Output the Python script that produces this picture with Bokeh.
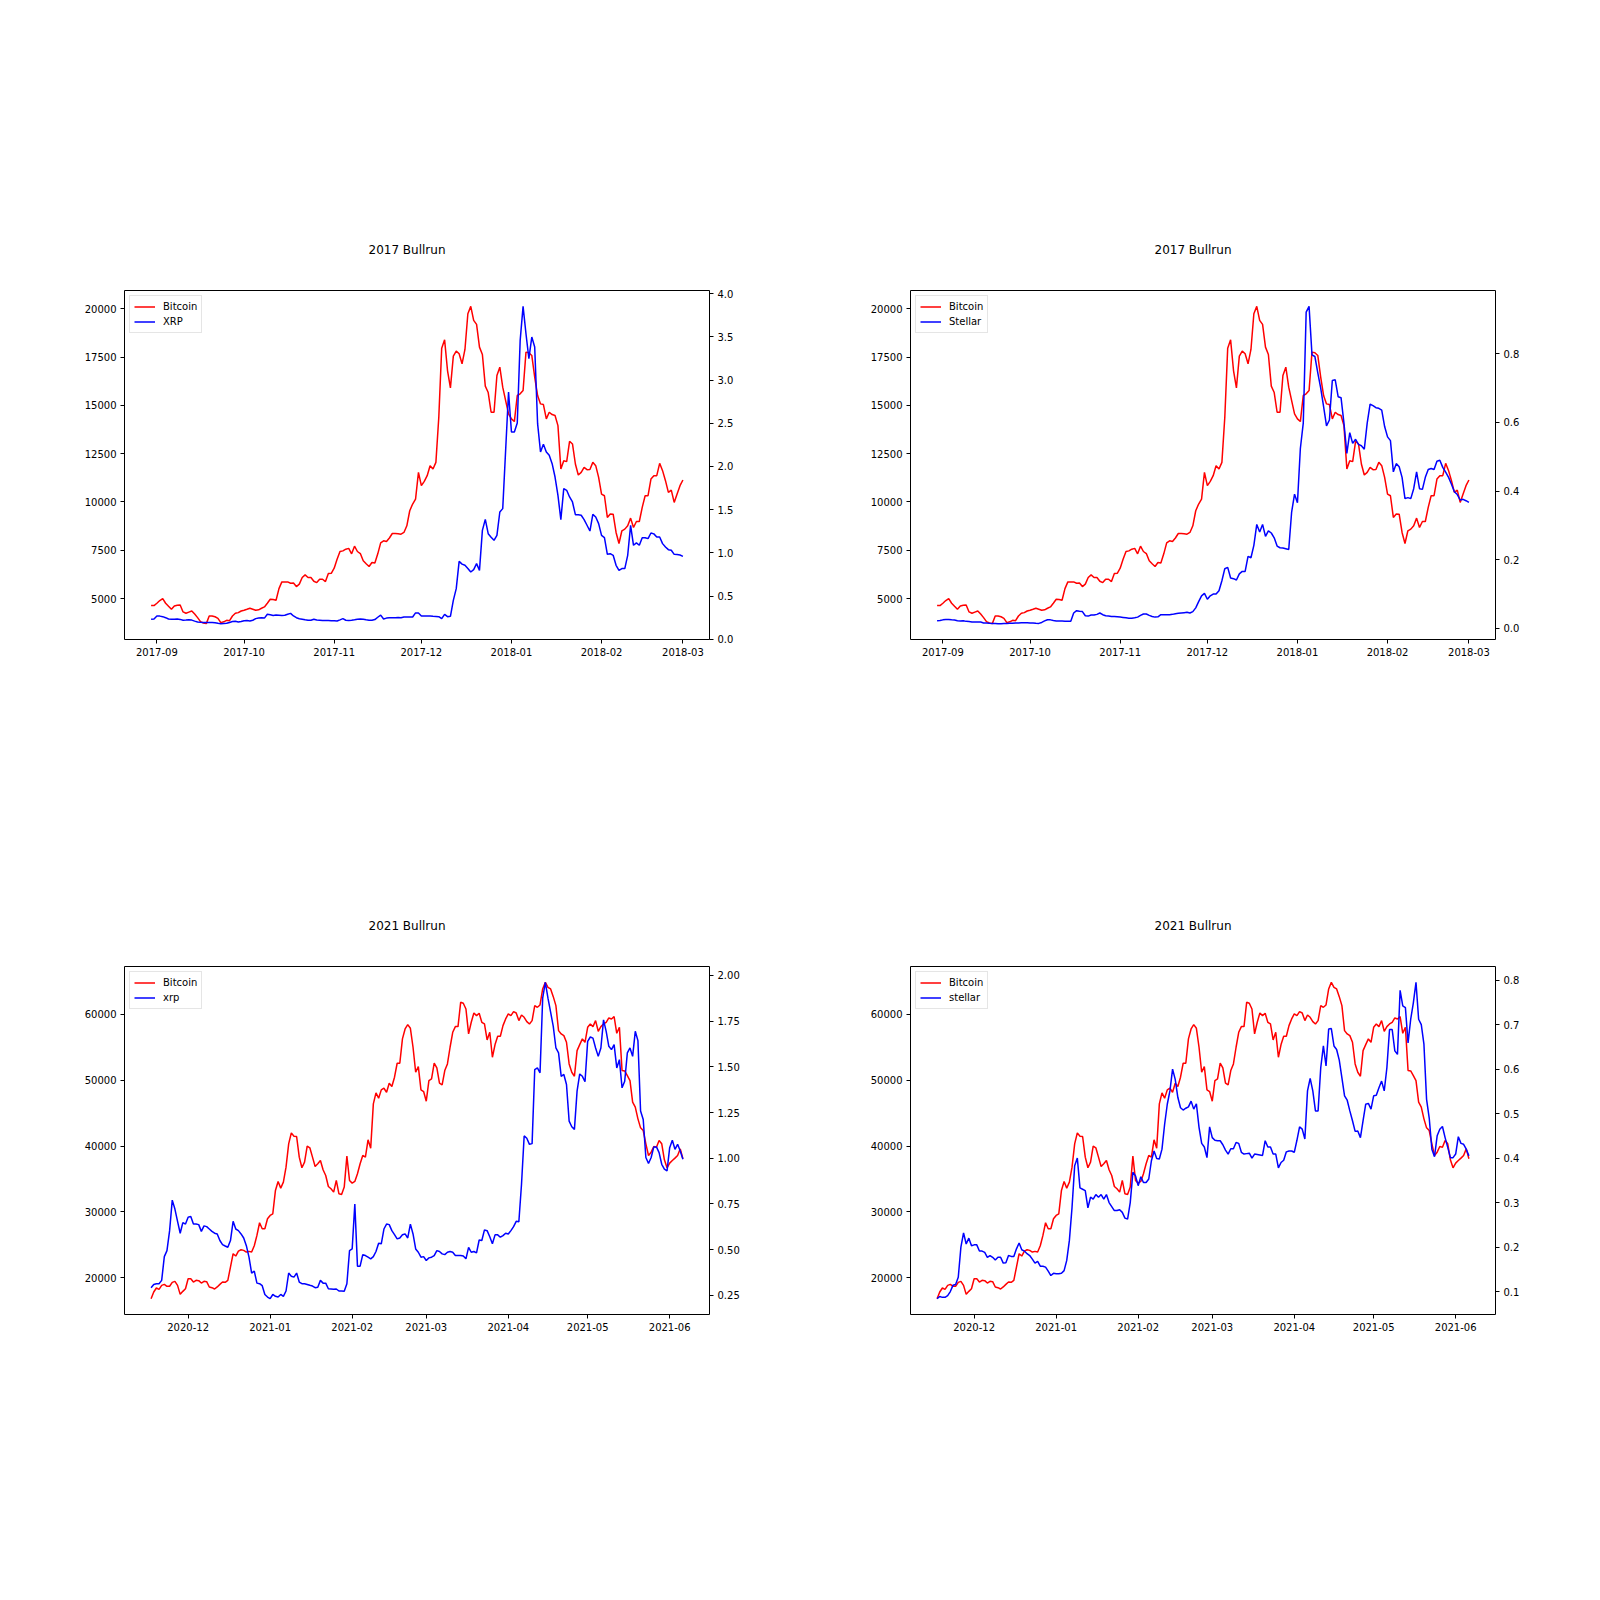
import pandas as pd
from bokeh.plotting import figure
from bokeh.models import (Range1d, LinearAxis, DatetimeTickFormatter, MonthsTicker,
                          FixedTicker, NumeralTickFormatter, Legend, LegendItem)
from bokeh.layouts import column, row
from bokeh.embed import file_html
from bokeh.resources import INLINE

# ---------------- data ----------------
start_2017 = "2017-08-30"
start_2021 = "2020-11-17"

btc_2017 = [
    4638, 4638, 4760, 4900, 5000, 4760, 4600, 4448, 4620, 4660,
    4673, 4310, 4240, 4300, 4360, 4200, 4015, 3807, 3740, 3705,
    4100, 4100, 4060, 3980, 3757, 3800, 3877, 3860, 4100, 4240,
    4275, 4360, 4400, 4448, 4500, 4450, 4396, 4420, 4500, 4570,
    4760, 4967, 4950, 4914, 5519, 5865, 5865, 5865, 5796, 5810,
    5623, 5750, 6090, 6228, 6090, 6090, 5900, 5830, 6000, 6003,
    5880, 6297, 6310, 6573, 7040, 7437, 7470, 7558, 7600, 7316,
    7714, 7437, 7333, 6954, 6800, 6660, 6867, 6840, 7316, 7886,
    7990, 7950, 8137, 8370, 8370, 8360, 8335, 8422, 8768, 9546,
    9892, 10150, 11533, 10842, 11066, 11360, 11878, 11705, 12050, 14384,
    17960, 18390, 16800, 15905, 17546, 17805, 17667, 17149, 17892, 19741,
    20121, 19395, 19188, 18013, 17633, 15991, 15663, 14643, 14643, 16544,
    16976, 15939, 15248, 14557, 14298, 14160, 15508, 15594, 15767, 17754,
    17720, 17581, 16458, 15508, 15075, 15040, 14298, 14643, 14522, 14470,
    13952, 11705, 12137, 12086, 13140, 13002, 11965, 11395, 11533, 11792,
    11671, 11680, 12050, 11878, 11274, 10410, 10323, 9200, 9373, 9370,
    8422, 7852, 8509, 8595, 8768, 9165, 8681, 8992, 8990, 9718,
    10323, 10323, 11187, 11360, 11360, 12000, 11620, 11101, 10496, 10617,
    9978, 10410, 10842, 11136,
]

xrp_2017 = [
    0.231, 0.235, 0.27, 0.268, 0.262, 0.25, 0.235, 0.232, 0.231, 0.235,
    0.23, 0.22, 0.222, 0.225, 0.222, 0.21, 0.2, 0.196, 0.193, 0.193,
    0.195, 0.194, 0.19, 0.185, 0.181, 0.183, 0.185, 0.195, 0.205, 0.208,
    0.2, 0.205, 0.214, 0.216, 0.212, 0.22, 0.239, 0.245, 0.25, 0.245,
    0.289, 0.283, 0.275, 0.28, 0.278, 0.275, 0.278, 0.29, 0.30, 0.27,
    0.25, 0.238, 0.232, 0.225, 0.22, 0.22, 0.232, 0.222, 0.22, 0.218,
    0.216, 0.216, 0.215, 0.214, 0.212, 0.225, 0.239, 0.22, 0.216, 0.22,
    0.225, 0.232, 0.235, 0.232, 0.225, 0.22, 0.22, 0.228, 0.255, 0.28,
    0.235, 0.245, 0.25, 0.25, 0.25, 0.252, 0.25, 0.258, 0.258, 0.258,
    0.258, 0.305, 0.305, 0.27, 0.27, 0.27, 0.268, 0.266, 0.265, 0.262,
    0.239, 0.289, 0.262, 0.266, 0.45, 0.586, 0.902, 0.87, 0.856, 0.82,
    0.779, 0.806, 0.875, 0.798, 1.261, 1.388, 1.222, 1.18, 1.145, 1.203,
    1.473, 1.512, 2.187, 2.862, 2.399, 2.399, 2.503, 3.459, 3.853, 3.536,
    3.247, 3.498, 3.382, 2.495, 2.167, 2.256, 2.167, 2.129, 2.032, 1.878,
    1.666, 1.385, 1.743, 1.724, 1.647, 1.589, 1.442, 1.44, 1.435, 1.385,
    1.32, 1.253, 1.446, 1.415, 1.338, 1.203, 1.176, 0.983, 0.991, 0.972,
    0.856, 0.798, 0.818, 0.818, 0.972, 1.319, 1.088, 1.115, 1.088, 1.176,
    1.176, 1.165, 1.23, 1.22, 1.184, 1.184, 1.107, 1.068, 1.037, 1.03,
    0.983, 0.98, 0.975, 0.96,
]

xlm_2017 = [
    0.0225, 0.023, 0.025, 0.026, 0.026, 0.025, 0.0245, 0.0225, 0.022, 0.0225,
    0.0206, 0.02, 0.0186, 0.019, 0.0186, 0.0186, 0.016, 0.0157, 0.015, 0.0147,
    0.0147, 0.014, 0.014, 0.0145, 0.0147, 0.015, 0.015, 0.0157, 0.016, 0.0165,
    0.0167, 0.0165, 0.016, 0.0157, 0.015, 0.0147, 0.0175, 0.022, 0.0255, 0.025,
    0.023, 0.022, 0.0215, 0.0215, 0.021, 0.0206, 0.0206, 0.045, 0.0518, 0.050,
    0.049, 0.037, 0.036, 0.039, 0.039, 0.041, 0.045, 0.040, 0.037, 0.036,
    0.035, 0.035, 0.034, 0.033, 0.032, 0.031, 0.030, 0.030, 0.031, 0.033,
    0.038, 0.042, 0.042, 0.038, 0.035, 0.033, 0.034, 0.040, 0.040, 0.040,
    0.040, 0.041, 0.043, 0.044, 0.045, 0.046, 0.047, 0.045, 0.049, 0.060,
    0.078, 0.095, 0.102, 0.085, 0.095, 0.100, 0.100, 0.110, 0.139, 0.174,
    0.178, 0.147, 0.145, 0.141, 0.159, 0.166, 0.166, 0.21, 0.206, 0.242,
    0.303, 0.281, 0.303, 0.268, 0.284, 0.278, 0.264, 0.240, 0.235, 0.234,
    0.232, 0.23, 0.339, 0.391, 0.366, 0.524, 0.598, 0.921, 0.938, 0.797,
    0.792, 0.744, 0.70, 0.646, 0.590, 0.607, 0.722, 0.724, 0.675, 0.672,
    0.598, 0.510, 0.570, 0.539, 0.551, 0.536, 0.532, 0.522, 0.598, 0.653,
    0.649, 0.643, 0.641, 0.636, 0.588, 0.558, 0.547, 0.456, 0.480, 0.471,
    0.44, 0.378, 0.381, 0.378, 0.407, 0.456, 0.407, 0.405, 0.440, 0.463,
    0.466, 0.463, 0.487, 0.490, 0.469, 0.455, 0.440, 0.420, 0.398, 0.390,
    0.374, 0.376, 0.372, 0.367,
]

btc_2021 = [
    16813, 17825, 18432, 18230, 18837, 18988, 18685, 18700, 19292, 19444,
    18837, 17471, 17926, 18331, 19848, 19848, 19343, 19595, 19550, 19191,
    19444, 19400, 18584, 18483, 18280, 18600, 18988, 19343, 19300, 19595,
    21619, 23642, 23288, 24046, 24249, 24150, 23895, 24000, 23895, 24856,
    26424, 28346, 27435, 27435, 28953, 29459, 29711, 33252, 34618, 33606,
    34517, 36793, 40333, 42002, 41497, 41450, 38310, 36692, 37552, 39979,
    39726, 38310, 36894, 37299, 37805, 36388, 35528, 33859, 33505, 33000,
    34770, 32746, 32645, 33758, 38462, 34770, 34365, 34618, 35781, 37299,
    38563, 38310, 40940, 39675, 46403, 48072, 47263, 48527, 48780, 48173,
    49539, 49033, 50450, 52574, 52574, 56267, 57784, 58442, 57885, 55002,
    51209, 52068, 48527, 48274, 46807, 49943, 50197, 52574, 51866, 49539,
    49286, 51461, 52472, 55002, 57278, 58138, 58138, 61830, 61678, 60818,
    57025, 58795, 60211, 59807, 60161, 58795, 58543, 56115, 57278, 53485,
    55407, 56671, 56671, 58290, 59301, 60060, 59807, 60414, 60211, 59048,
    59908, 59554, 58896, 58543, 59048, 61324, 61071, 61425, 63853, 64865,
    64106, 63853, 62690, 61324, 57531, 57025, 56772, 55760, 52473, 51209,
    50602, 54496, 55407, 56267, 55760, 58037, 58543, 58138, 59048, 57430,
    58138, 58543, 58795, 59453, 59301, 59655, 57126, 58037, 51461, 51400,
    50703, 49943, 46656, 45897, 44127, 42761, 42356, 40333, 38563, 39068,
    39928, 39827, 40838, 40333, 37906, 36692, 37400, 37805, 38159, 38563,
    39574, 38057,
]

xrp_2021 = [
    0.292, 0.31, 0.314, 0.314, 0.332, 0.462, 0.495, 0.604, 0.771, 0.722,
    0.655, 0.59, 0.648, 0.64, 0.677, 0.682, 0.64, 0.64, 0.637, 0.6,
    0.63, 0.626, 0.613, 0.60, 0.59, 0.586, 0.55, 0.528, 0.52, 0.513,
    0.55, 0.655, 0.613, 0.604, 0.586, 0.564, 0.522, 0.459, 0.372, 0.383,
    0.317, 0.314, 0.303, 0.255, 0.241, 0.232, 0.255, 0.245, 0.241, 0.255,
    0.245, 0.274, 0.372, 0.355, 0.35, 0.372, 0.323, 0.314, 0.314, 0.31,
    0.305, 0.301, 0.292, 0.295, 0.332, 0.317, 0.317, 0.286, 0.285, 0.283,
    0.285, 0.274, 0.274, 0.272, 0.314, 0.495, 0.504, 0.75, 0.41, 0.41,
    0.473, 0.468, 0.459, 0.45, 0.462, 0.49, 0.535, 0.532, 0.613, 0.64,
    0.637, 0.604, 0.582, 0.559, 0.564, 0.582, 0.586, 0.564, 0.64, 0.586,
    0.504, 0.486, 0.459, 0.462, 0.441, 0.455, 0.459, 0.468, 0.495, 0.49,
    0.477, 0.473, 0.486, 0.49, 0.486, 0.468, 0.468, 0.468, 0.465, 0.45,
    0.513, 0.486, 0.49, 0.482, 0.553, 0.55, 0.608, 0.604, 0.571, 0.532,
    0.581, 0.581, 0.568, 0.577, 0.59, 0.586, 0.604, 0.626, 0.655, 0.653,
    0.858, 1.122, 1.109, 1.076, 1.08, 1.485, 1.494, 1.467, 1.875, 1.962,
    1.875, 1.799, 1.721, 1.603, 1.576, 1.448, 1.458, 1.403, 1.203, 1.172,
    1.158, 1.367, 1.461, 1.448, 1.418, 1.639, 1.663, 1.657, 1.603, 1.557,
    1.603, 1.757, 1.694, 1.612, 1.594, 1.621, 1.494, 1.539, 1.385, 1.421,
    1.576, 1.603, 1.557, 1.694, 1.643, 1.258, 1.212, 1.004, 0.971, 1.004,
    1.062, 1.062, 1.031, 0.967, 0.94, 0.931, 1.058, 1.098, 1.049, 1.076,
    1.04, 0.995,
]

xlm_2021 = [
    0.084, 0.089, 0.087, 0.087, 0.091, 0.10, 0.114, 0.116, 0.132, 0.2,
    0.232, 0.207, 0.22, 0.203, 0.205, 0.205, 0.191, 0.191, 0.188, 0.177,
    0.181, 0.177, 0.171, 0.177, 0.177, 0.164, 0.165, 0.181, 0.179, 0.179,
    0.196, 0.209, 0.194, 0.191, 0.185, 0.181, 0.173, 0.164, 0.168, 0.157,
    0.157, 0.155, 0.146, 0.136, 0.141, 0.14, 0.14, 0.141, 0.147, 0.17,
    0.215, 0.289, 0.383, 0.40, 0.333, 0.33, 0.327, 0.288, 0.312, 0.308,
    0.318, 0.312, 0.318, 0.308, 0.318, 0.30, 0.291, 0.282, 0.282, 0.284,
    0.278, 0.265, 0.263, 0.30, 0.368, 0.36, 0.338, 0.358, 0.345, 0.345,
    0.353, 0.394, 0.416, 0.399, 0.398, 0.42, 0.476, 0.521, 0.551, 0.60,
    0.577, 0.536, 0.513, 0.508, 0.512, 0.515, 0.528, 0.51, 0.522, 0.469,
    0.433, 0.425, 0.401, 0.47, 0.446, 0.44, 0.439, 0.439, 0.43, 0.418,
    0.409, 0.421, 0.421, 0.435, 0.433, 0.413, 0.409, 0.41, 0.411, 0.40,
    0.409, 0.408, 0.407, 0.406, 0.439, 0.425, 0.425, 0.409, 0.409, 0.378,
    0.39, 0.395, 0.414, 0.416, 0.416, 0.413, 0.44, 0.47, 0.465, 0.443,
    0.551, 0.579, 0.551, 0.506, 0.506, 0.603, 0.652, 0.607, 0.69, 0.691,
    0.652, 0.644, 0.62, 0.58, 0.54, 0.53, 0.506, 0.484, 0.46, 0.461,
    0.446, 0.484, 0.521, 0.523, 0.51, 0.54, 0.541, 0.558, 0.573, 0.551,
    0.603, 0.689, 0.689, 0.641, 0.633, 0.777, 0.742, 0.738, 0.659, 0.712,
    0.749, 0.795, 0.712, 0.70, 0.656, 0.532, 0.49, 0.42, 0.403, 0.45,
    0.465, 0.471, 0.446, 0.424, 0.401, 0.401, 0.409, 0.448, 0.433, 0.431,
    0.42, 0.405,
]

btc_2017_ticks = [5000, 7500, 10000, 12500, 15000, 17500, 20000]
btc_2021_ticks = [20000, 30000, 40000, 50000, 60000]
xrp_2017_ticks = [0.0, 0.5, 1.0, 1.5, 2.0, 2.5, 3.0, 3.5, 4.0]
xlm_2017_ticks = [0.0, 0.2, 0.4, 0.6, 0.8]
xrp_2021_ticks = [0.25, 0.50, 0.75, 1.00, 1.25, 1.50, 1.75, 2.00]
xlm_2021_ticks = [0.1, 0.2, 0.3, 0.4, 0.5, 0.6, 0.7, 0.8]

titles = ["2017 Bullrun", "2017 Bullrun", "2021 Bullrun", "2021 Bullrun"]
btc_name = "Bitcoin"
alt_names = ["XRP", "Stellar", "xrp", "stellar"]

FONT = "DejaVu Sans"


def padded(vals):
    lo, hi = min(vals), max(vals)
    m = 0.05 * (hi - lo)
    return lo - m, hi + m


def style_axis(ax):
    ax.axis_line_color = None
    ax.major_tick_line_color = "black"
    ax.major_tick_line_width = 1
    ax.major_tick_out = 4
    ax.major_tick_in = 0
    ax.minor_tick_line_color = None
    ax.major_label_text_font = FONT
    ax.major_label_text_font_size = "10px"
    ax.major_label_text_color = "#000000"
    ax.major_label_standoff = 4


def panel(title, start, btc, alt, alt_name, lticks, rticks, rfmt, height, top):
    dates = pd.date_range(start, periods=len(btc), freq="D")
    span = dates[-1] - dates[0]
    x_range = Range1d(dates[0] - span * 0.05, dates[-1] + span * 0.05)
    y0, y1 = padded(btc)
    r0, r1 = padded(alt)
    p = figure(x_axis_type="datetime", x_range=x_range, y_range=Range1d(y0, y1),
               width=786, height=height, output_backend="svg", toolbar_location=None,
               min_border_left=124, min_border_right=77, min_border_top=top,
               min_border_bottom=45, background_fill_color="white",
               border_fill_color="white")
    p.extra_y_ranges = {"alt": Range1d(r0, r1)}
    p.grid.visible = False
    p.outline_line_color = "black"
    p.outline_line_width = 1

    p.title.text = title
    p.title.align = "left"
    p.title.offset = 244
    p.title.standoff = 67
    p.title.text_font = FONT
    p.title.text_font_size = "12px"
    p.title.text_font_style = "normal"
    p.title.text_color = "black"

    r_btc = p.line(dates, btc, line_color="#ff0000", line_width=1.5)
    r_alt = p.line(dates, alt, line_color="#0000ff", line_width=1.5, y_range_name="alt")

    p.xaxis.ticker = MonthsTicker(months=list(range(1, 13)))
    p.xaxis.formatter = DatetimeTickFormatter(days="%Y-%m", months="%Y-%m", years="%Y-%m")
    p.yaxis.ticker = FixedTicker(ticks=lticks)
    p.yaxis.formatter = NumeralTickFormatter(format="0")
    raxis = LinearAxis(y_range_name="alt", ticker=FixedTicker(ticks=rticks),
                       formatter=NumeralTickFormatter(format=rfmt))
    p.add_layout(raxis, "right")
    for ax in list(p.xaxis) + list(p.yaxis) + [raxis]:
        style_axis(ax)

    legend = Legend(items=[LegendItem(label=btc_name, renderers=[r_btc]),
                           LegendItem(label=alt_name, renderers=[r_alt])],
                    location="top_left")
    legend.margin = 5
    legend.padding = 4
    legend.spacing = 2
    legend.glyph_width = 21
    legend.glyph_height = 13
    legend.label_height = 13
    legend.label_standoff = 8
    legend.label_text_font = FONT
    legend.label_text_font_size = "10px"
    legend.label_text_color = "black"
    legend.border_line_color = "#cccccc"
    legend.border_line_width = 1
    legend.background_fill_color = "white"
    legend.background_fill_alpha = 0.8
    p.add_layout(legend)
    return p


p1 = panel(titles[0], start_2017, btc_2017, xrp_2017, alt_names[0],
           btc_2017_ticks, xrp_2017_ticks, "0.0", 684, 290)
p2 = panel(titles[1], start_2017, btc_2017, xlm_2017, alt_names[1],
           btc_2017_ticks, xlm_2017_ticks, "0.0", 684, 290)
p3 = panel(titles[2], start_2021, btc_2021, xrp_2021, alt_names[2],
           btc_2021_ticks, xrp_2021_ticks, "0.00", 675, 282)
p4 = panel(titles[3], start_2021, btc_2021, xlm_2021, alt_names[3],
           btc_2021_ticks, xlm_2021_ticks, "0.0", 675, 282)

layout = column(row(p1, p2), row(p3, p4))
open("out.html", "w").write(file_html(layout, INLINE))
